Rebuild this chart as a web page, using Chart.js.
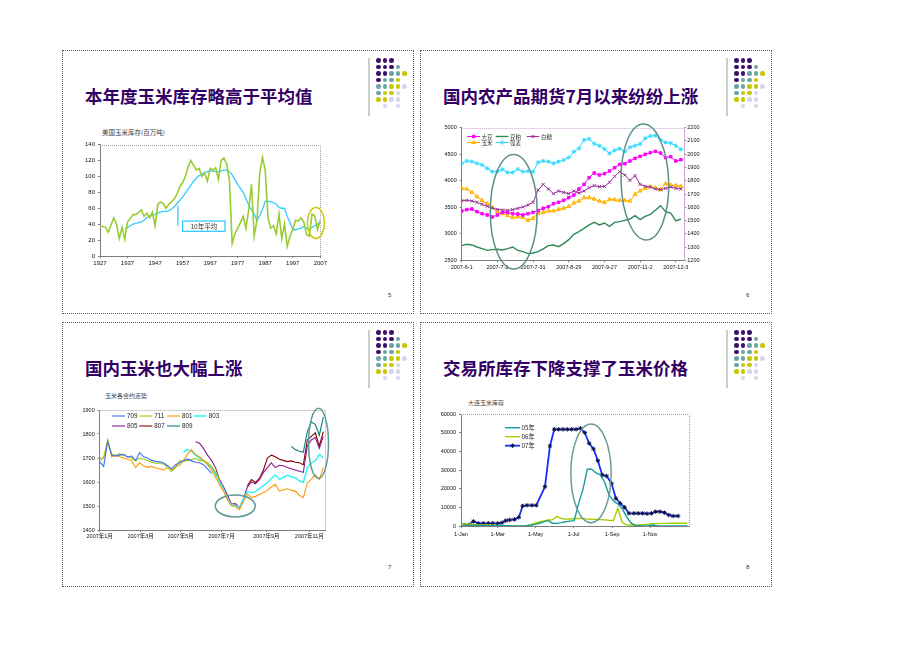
<!DOCTYPE html>
<html>
<head>
<meta charset="utf-8">
<script src="https://cdn.jsdelivr.net/npm/chart.js@4.4.1/dist/chart.umd.min.js"></script>
<style>
  html, body { margin:0; padding:0; background:#fff; }
  body { width:920px; height:651px; position:relative; overflow:hidden; font-family:"Noto Sans CJK SC","Liberation Sans",sans-serif; }
  .slide { position:absolute; width:352px; box-sizing:border-box; border:1px dotted #5a5a5a; background:#fff; }
  .title { position:absolute; left:22px; top:33px; font-size:17.5px; font-weight:700; color:#330066; line-height:24px; white-space:nowrap; }
  .vline { position:absolute; left:305px; top:7px; width:2px; height:58px; background:#c9d0c9; }
  .dot { position:absolute; width:4.6px; height:4.6px; border-radius:50%; }
  .pnum { position:absolute; left:325px; top:241px; font-size:6px; color:#333; font-family:"Liberation Sans",sans-serif; }
  .ctitle { position:absolute; font-size:6px; color:#444; white-space:nowrap; line-height:8px; }
  canvas { position:absolute; }
</style>
</head>
<body>
<div class="slide" id="s1" style="left:62px;top:50px;height:264px"><div class="title">本年度玉米库存略高于平均值</div><div class="pnum">5</div></div>
<div class="slide" id="s2" style="left:420px;top:50px;height:264px"><div class="title">国内农产品期货7月以来纷纷上涨</div><div class="pnum">6</div></div>
<div class="slide" id="s3" style="left:62px;top:322px;height:265px"><div class="title">国内玉米也大幅上涨</div><div class="pnum">7</div></div>
<div class="slide" id="s4" style="left:420px;top:322px;height:265px"><div class="title">交易所库存下降支撑了玉米价格</div><div class="pnum">8</div></div>

<div class="ctitle" style="left:102px;top:128px;font-size:6.5px">美国玉米库存(百万吨)</div>
<div class="ctitle" style="left:105px;top:392px">玉米各合约走势</div>
<div class="ctitle" style="left:468px;top:399px">大连玉米库存</div>

<canvas id="c1" width="262" height="137" style="left:70px;top:138px"></canvas>
<canvas id="c2" width="272" height="157" style="left:428px;top:118px"></canvas>
<canvas id="c3" width="270" height="147" style="left:66px;top:398px"></canvas>
<canvas id="c4" width="272" height="145" style="left:428px;top:400px"></canvas>

<script>
// ================= DATA =================
// Chart 1: US corn stocks (million tons), 1927-2007, and 10-year average from 1936
const stockFirstYear = 1927;
const usCornStocks = [37,37,36,30,39,48,40,22,36,21,
  43,47,52,52,55,58,50,54,48,55,
  38,65,68,66,60,65,68,72,78,87,
  92,100,112,120,114,108,110,100,104,94,
  110,108,111,96,120,123,116,95,16,28,
  35,42,50,35,58,90,25,45,104,124,
  108,48,35,38,28,53,22,40,12,25,
  33,45,44,48,43,27,25,53,50,33,
  45];
const avgFirstYear = 1936;
const tenYearAvg = [34,36,38,40,41,42,43,45,48,50,
  51,52,54,55,56,56,57,59,62,66,
  70,74,79,84,89,94,98,101,103,105,
  106,107,107,106,106,107,108,108,106,102,
  96,90,85,80,72,64,58,53,44,51,
  58,69,69,68,67,65,61,60,60,50,
  42,33,33,34,35,37,35,33,36,38,
  40,42];
const chart1YearTicks = [1927,1937,1947,1957,1967,1977,1987,1997,2007];

// Chart 2: domestic futures, sampled every 3 trading days from 2007-6-1
const futuresStep = 3;
const soybean = [3430,3455,3467,3417,3379,3354,3317,3354,3404,3398,3379,3373,3354,3379,3404,3436,3480,3511,3568,3593,3631,3681,3731,3844,3932,4058,4146,4108,4133,4183,4246,4309,4321,4372,4422,4460,4497,4529,4554,4522,4435,4453,4372,4397];
const soymeal = [2776,2801,2789,2751,2720,2688,2701,2707,2695,2720,2751,2688,2663,2626,2638,2663,2714,2776,2789,2758,2814,2889,2990,3040,3103,3166,3216,3166,3203,3141,3216,3229,3254,3279,3342,3266,3329,3367,3442,3530,3417,3392,3241,3279];
const sugar = [3624,3631,3618,3593,3555,3518,3486,3461,3448,3442,3455,3480,3505,3543,3593,3825,3932,3844,3756,3806,3781,3756,3806,3769,3806,3869,3907,3888,3894,3970,4083,4171,4108,4007,4095,3932,3894,3882,3844,3832,3857,3882,3857,3844];
const cornFut = [1743,1738,1713,1680,1652,1627,1597,1567,1552,1537,1522,1527,1522,1502,1517,1552,1562,1572,1572,1584,1592,1605,1632,1647,1672,1672,1662,1647,1637,1660,1657,1652,1652,1647,1697,1723,1743,1755,1748,1733,1778,1768,1763,1758];
const wheat = [1929,1949,1944,1931,1919,1893,1868,1871,1886,1863,1863,1888,1868,1873,1868,1939,1949,1944,1931,1944,1956,1976,2019,2044,2107,2115,2079,2064,2039,2007,2029,2042,2019,2052,2064,2077,2120,2137,2140,2107,2089,2084,2064,2037];
const chart2TickDays = [0,21,42,63,84,105,126];
const chart2TickLabels = ['2007-6-1','2007-7-2','2007-7-31','2007-8-29','2007-9-27','2007-11-2','2007-12-3'];

// Chart 3: Dalian corn contracts, sampled every 4 trading days
const contractStep = 4;
const contractNames = ['709','711','801','803','805','807','809'];
const contractStart = [0,0,0,21,24,37,48];
const c709 = [1685,1665,1770,1712,1708,1712,1715,1704,1708,1690,1722,1705,1700,1690,1686,1684,1680,1668,1655,1672,1680,1690,1695,1688,1682,1680,1672,1655,1636];
const c711 = [1700,1700,1775,1715,1710,1718,1710,1705,1700,1688,1700,1695,1690,1682,1678,1678,1675,1662,1645,1660,1688,1685,1690,1695,1698,1690,1688,1680,1665,1640,1610];
const c801 = [1690,1700,1770,1705,1712,1705,1700,1695,1690,1660,1680,1668,1660,1665,1658,1655,1650,1660,1648,1665,1670,1690,1715,1735,1715,1705,1690,1672,1650,1620,1590,1562,1525,1500,1498,1485,1520,1550,1535,1540,1548,1556,1565,1580,1590,1562,1568,1572,1565,1562,1545,1535,1595,1612,1630,1610,1660];
const c803 = [1725,1735,1728,1712,1700,1690,1675,1660,1632,1600,1570,1530,1505,1500,1495,1530,1560,1555,1560,1572,1585,1598,1615,1630,1610,1620,1628,1622,1618,1605,1598,1660,1680,1688,1715,1700];
const c805 = [1768,1762,1740,1712,1690,1660,1610,1580,1545,1508,1510,1492,1530,1580,1600,1592,1610,1640,1660,1680,1660,1670,1668,1660,1655,1650,1645,1640,1750,1775,1785,1740,1790];
const c807 = [1585,1610,1598,1615,1650,1700,1712,1705,1695,1690,1685,1688,1682,1680,1672,1775,1790,1805,1750,1810];
const c809 = [1748,1735,1728,1725,1810,1850,1840,1795,1870];
const chart3TickPos = [0,41,81,122,167,210];
const chart3TickLabels = ['2007年1月','2007年3月','2007年5月','2007年7月','2007年9月','2007年11月'];

// Chart 4: Dalian corn warehouse stocks (day of year)
const days07 = [5,13,20,28,36,44,51,59,66,72,78,86,93,99,106,114,121,135,143,150,157,164,171,178,185,192,199,206,213,220,227,234,242,249,256,263,270,278,285,292,299,306,313,320,327,334,341,349];
const stock07 = [540,720,2500,1430,1430,1430,1430,1430,1790,2870,3220,3580,4660,10750,11100,11100,11100,21130,42980,51940,51940,51940,51940,51940,51940,52480,50150,44420,41370,35100,27400,26870,22930,14870,12180,10030,6810,6810,6810,6810,6630,6810,7700,7700,7160,5910,5370,5370];
const weekStep = 7;
const stock05 = [300,200,200,300,400,300,200,100,300,400,200,100,0,0,0,100,400,900,1500,2200,3000,1500,1400,1800,2300,2600,2900,12000,19500,30500,30500,28500,27500,23500,16700,13500,11800,9500,5000,1800,200,100,0,100,500,100,0,0,0,0,0,0,0];
const stock06 = [800,1000,1100,900,700,500,500,400,300,200,100,0,0,0,0,200,700,1500,2200,2700,3200,3300,5200,4000,3700,3800,3900,4000,4100,3700,3600,3500,3400,3300,3100,3000,9500,2000,600,500,500,600,800,1000,1200,1300,1400,1400,1500,1500,1500,1500,1500];
const chart4TickDays = [0,59,120,181,243,304];
const chart4TickLabels = ['1-Jan','1-Mar','1-May','1-Jul','1-Sep','1-Nov'];

// ================= DECOR =================
const dotRows = ['PPP','PPPT','PPTTY','PTTY','TTYYL','TYYL','YYLL',' L L'];
const dotColors = {P:'#3b0f6b', T:'#6aa5a5', Y:'#c8c800', L:'#d4d4ef'};
['s1','s2','s3','s4'].forEach(id => {
  const s = document.getElementById(id);
  const vl = document.createElement('div'); vl.className = 'vline'; s.appendChild(vl);
  dotRows.forEach((row, r) => {
    [...row].forEach((c, k) => {
      if (c === ' ') return;
      const d = document.createElement('div'); d.className = 'dot';
      d.style.left = (313.4 + k * 6.4) + 'px';
      d.style.top = (7.2 + r * 6.5) + 'px';
      d.style.background = dotColors[c];
      s.appendChild(d);
    });
  });
});

// ================= PLUGINS =================
const framePlugin = {
  id: 'frame',
  beforeDatasetsDraw(chart, args, o) {
    const a = chart.chartArea, ctx = chart.ctx;
    ctx.save(); ctx.setLineDash([1, 1]); ctx.strokeStyle = o.color || '#999'; ctx.lineWidth = 1;
    ctx.beginPath();
    ctx.moveTo(a.left, Math.round(a.top) + 0.5);
    ctx.lineTo(Math.round(a.right) + 0.5, Math.round(a.top) + 0.5);
    ctx.lineTo(Math.round(a.right) + 0.5, a.bottom);
    ctx.stroke(); ctx.restore();
  }
};
const ellipsePlugin = {
  id: 'ellipses',
  afterDatasetsDraw(chart, args, o) {
    const ctx = chart.ctx;
    (o.items || []).forEach(e => {
      const xs = chart.scales[e.xAxis || 'x'], ys = chart.scales[e.yAxis || 'y'];
      const cx = xs.getPixelForValue(e.cx), cy = ys.getPixelForValue(e.cy);
      const rx = Math.abs(xs.getPixelForValue(e.cx + e.rx) - cx);
      const ry = Math.abs(ys.getPixelForValue(e.cy + e.ry) - cy);
      ctx.save(); ctx.beginPath(); ctx.ellipse(cx, cy, rx, ry, e.rot || 0, 0, Math.PI * 2);
      ctx.strokeStyle = e.color; ctx.lineWidth = e.width || 1.5; ctx.stroke(); ctx.restore();
    });
  }
};
const calloutPlugin = {
  id: 'callout',
  afterDatasetsDraw(chart, args, o) {
    if (!o || !o.text) return;
    const xs = chart.scales.x, ys = chart.scales.y, ctx = chart.ctx;
    ctx.save();
    ctx.strokeStyle = o.color; ctx.lineWidth = o.lineWidth;
    const lx = xs.getPixelForValue(o.lineX);
    ctx.beginPath(); ctx.moveTo(lx, ys.getPixelForValue(o.lineFrom)); ctx.lineTo(lx, ys.getPixelForValue(o.lineTo)); ctx.stroke();
    const x1 = xs.getPixelForValue(o.box[0]), x2 = xs.getPixelForValue(o.box[1]);
    const y1 = ys.getPixelForValue(o.box[2]), y2 = ys.getPixelForValue(o.box[3]);
    ctx.fillStyle = '#fff'; ctx.fillRect(x1, y1, x2 - x1, y2 - y1);
    ctx.strokeRect(x1, y1, x2 - x1, y2 - y1);
    ctx.fillStyle = o.textColor; ctx.font = o.font; ctx.textAlign = 'center'; ctx.textBaseline = 'middle';
    ctx.fillText(o.text, (x1 + x2) / 2, (y1 + y2) / 2 + 0.5);
    ctx.restore();
  }
};
const miniLegend = {
  id: 'miniLegend',
  afterDraw(chart, args, o) {
    if (!o || !o.items) return;
    const ctx = chart.ctx, a = chart.chartArea;
    ctx.save();
    o.items.forEach(it => {
      const ds = chart.data.datasets[it.ds];
      const x = a.left + it.dx, y = a.top + it.dy;
      ctx.setLineDash([]);
      ctx.strokeStyle = ds.borderColor; ctx.lineWidth = ds.borderWidth;
      ctx.beginPath(); ctx.moveTo(x, y); ctx.lineTo(x + o.lineLen, y); ctx.stroke();
      if (ds.pointRadius > 0) {
        ctx.fillStyle = ds.pointBackgroundColor || ds.borderColor;
        ctx.strokeStyle = ds.pointBorderColor || ds.borderColor;
        ctx.lineWidth = ds.pointBorderWidth || 1;
        if (Chart.helpers && Chart.helpers.drawPoint) {
          Chart.helpers.drawPoint(ctx, {pointStyle: ds.pointStyle, radius: ds.pointRadius, rotation: 0, borderWidth: ds.pointBorderWidth || 1}, x + o.lineLen / 2, y);
        } else {
          ctx.fillRect(x + o.lineLen / 2 - 1.5, y - 1.5, 3, 3);
        }
      }
      ctx.fillStyle = o.color; ctx.font = o.font; ctx.textAlign = 'left'; ctx.textBaseline = 'middle';
      ctx.fillText(ds.label, x + o.lineLen + o.gap, y + 0.3);
    });
    ctx.restore();
  }
};

// ================= HELPERS =================
const AXIS = '#7f7f7f';
const tickFont = (s) => ({size: s, family: '"Liberation Sans","Noto Sans CJK SC",sans-serif'});
function xAxisFixed(opts) {
  return {
    type: 'linear', min: opts.min, max: opts.max,
    afterBuildTicks: s => { s.ticks = opts.ticks.map(v => ({value: v})); },
    afterFit: s => { s.height = opts.height; },
    ticks: {font: tickFont(opts.font), color: '#111', padding: opts.pad, maxRotation: 0, minRotation: 0, autoSkip: false,
      callback: (v, i) => opts.labels ? opts.labels[i] : String(v)},
    grid: {drawOnChartArea: false, drawTicks: true, tickLength: 2, color: AXIS},
    border: {color: AXIS, width: 1}
  };
}
function yAxisFixed(opts) {
  return {
    type: 'linear', position: opts.position || 'left', min: opts.min, max: opts.max,
    afterFit: s => { s.width = opts.width; },
    ticks: {stepSize: opts.step, font: tickFont(opts.font), color: '#111', padding: opts.pad, callback: v => String(v)},
    grid: {drawOnChartArea: false, drawTicks: true, tickLength: 2, color: AXIS},
    border: {color: opts.borderColor || AXIS, width: 1, dash: opts.dash || []}
  };
}
const baseOpts = {responsive: false, animation: false, devicePixelRatio: 1, events: []};

// ================= CHART 1 =================
const stockYears = usCornStocks.map((v, i) => stockFirstYear + i);
const avgYears = tenYearAvg.map((v, i) => avgFirstYear + i);
new Chart(document.getElementById('c1'), {
  type: 'line',
  data: {datasets: [
    {label: '美国玉米库存', data: usCornStocks.map((v, i) => ({x: stockYears[i], y: v})), borderColor: '#99cc33', borderWidth: 1.6, pointRadius: 0, tension: 0},
    {label: '10年平均', data: tenYearAvg.map((v, i) => ({x: avgYears[i], y: v})), borderColor: '#33ccff', borderWidth: 1.3, pointRadius: 0, tension: 0}
  ]},
  options: Object.assign({}, baseOpts, {
    layout: {padding: {top: 6.3, right: 11.7, left: 0, bottom: 0}},
    plugins: {
      legend: {display: false}, tooltip: {enabled: false},
      frame: {color: '#a0a0a0'},
      ellipses: {items: [{cx: 2005.4, cy: 41.5, rx: 3.1, ry: 19.5, color: '#c8c800', width: 1.5}]},
      callout: {text: '10年平均', lineX: 1955.3, lineFrom: 63, lineTo: 38, box: [1957, 1972.4, 44, 31], color: '#33ccff', lineWidth: 1.3, textColor: '#333', font: '6.5px "Noto Sans CJK SC"'}
    },
    scales: {
      x: xAxisFixed({min: 1927, max: 2007, ticks: chart1YearTicks, height: 19, font: 6, pad: 2}),
      y: yAxisFixed({min: 0, max: 140, step: 20, width: 30, font: 6, pad: 3})
    }
  }),
  plugins: [framePlugin, ellipsePlugin, calloutPlugin]
});

// ================= CHART 2 =================
const futDays = soybean.map((v, i) => i * futuresStep);
const pts = (arr, xs) => arr.map((v, i) => ({x: xs[i], y: v}));
new Chart(document.getElementById('c2'), {
  type: 'line',
  data: {datasets: [
    {label: '大豆', data: pts(soybean, futDays), yAxisID: 'y', borderColor: '#ff00ff', borderWidth: 1, pointStyle: 'rect', pointRadius: 1.8, pointBackgroundColor: '#ff00ff', pointBorderColor: '#ff00ff', pointBorderWidth: 1},
    {label: '豆粕', data: pts(soymeal, futDays), yAxisID: 'y', borderColor: '#2e8b57', borderWidth: 1.4, pointRadius: 0},
    {label: '白糖', data: pts(sugar, futDays), yAxisID: 'y', borderColor: '#993399', borderWidth: 1, pointStyle: 'crossRot', pointRadius: 2.2, pointBorderColor: '#993399', pointBackgroundColor: '#993399', pointBorderWidth: 1},
    {label: '玉米', data: pts(cornFut, futDays), yAxisID: 'y1', borderColor: '#ffa500', borderWidth: 1, pointStyle: 'triangle', pointRadius: 2.2, pointBackgroundColor: '#ffd21a', pointBorderColor: '#ffb000', pointBorderWidth: 1},
    {label: '强麦', data: pts(wheat, futDays), yAxisID: 'y1', borderColor: '#33ccff', borderWidth: 1, pointStyle: 'star', pointRadius: 2.2, pointBorderColor: '#33ddff', pointBackgroundColor: '#33ddff', pointBorderWidth: 1}
  ]},
  options: Object.assign({}, baseOpts, {
    layout: {padding: {top: 9.7, right: 0, left: 0, bottom: 0}},
    plugins: {
      legend: {display: false}, tooltip: {enabled: false},
      frame: {color: '#c9a9cf'},
      ellipses: {items: [
        {cx: 30.6, cy: 3417, rx: 13.8, ry: 1080, color: '#5f8f8a', width: 1.5},
        {cx: 107.8, cy: 3976, rx: 14, ry: 1093, color: '#5f8f8a', width: 1.5, rot: -0.03}
      ]},
      miniLegend: {lineLen: 12.7, gap: 1.5, color: '#333', font: '5.5px "Noto Sans CJK SC"', items: [
        {ds: 0, dx: 5.6, dy: 8.8}, {ds: 1, dx: 34, dy: 8.8}, {ds: 2, dx: 65, dy: 8.8},
        {ds: 3, dx: 5.6, dy: 14.8}, {ds: 4, dx: 34, dy: 14.8}
      ]}
    },
    scales: {
      x: xAxisFixed({min: 0, max: 131, ticks: chart2TickDays, labels: chart2TickLabels, height: 14.7, font: 5.5, pad: 2}),
      y: yAxisFixed({min: 2500, max: 5000, step: 500, width: 33.7, font: 5.5, pad: 3}),
      y1: yAxisFixed({position: 'right', min: 1200, max: 2200, step: 100, width: 15.7, font: 5.5, pad: 1, borderColor: '#c9a9cf'})
    }
  }),
  plugins: [framePlugin, ellipsePlugin, miniLegend]
});

// ================= CHART 3 =================
const contractSeries = [c709, c711, c801, c803, c805, c807, c809];
const contractColors = ['#3f6fff', '#99cc00', '#ff9900', '#33f5f5', '#8b1a8b', '#8b0000', '#008080'];
new Chart(document.getElementById('c3'), {
  type: 'line',
  data: {datasets: contractSeries.map((arr, k) => ({
    label: contractNames[k],
    data: arr.map((v, i) => ({x: (contractStart[k] + i) * contractStep, y: v})),
    borderColor: contractColors[k], borderWidth: k === 3 ? 1.5 : 1.1, pointRadius: 0, tension: 0
  }))},
  options: Object.assign({}, baseOpts, {
    layout: {padding: {top: 12, right: 10.7, left: 0, bottom: 0}},
    plugins: {
      legend: {display: false}, tooltip: {enabled: false},
      frame: {color: '#a0a0a0'},
      ellipses: {items: [
        {cx: 135.8, cy: 1500, rx: 20, ry: 45.8, color: '#5f9a96', width: 1.5},
        {cx: 219.2, cy: 1761, rx: 10, ry: 146, color: '#5f9a96', width: 1.5}
      ]},
      miniLegend: {lineLen: 13, gap: 2, color: '#222', font: '6.3px "Liberation Sans"', items: [
        {ds: 0, dx: 12.3, dy: 6}, {ds: 1, dx: 39.6, dy: 6}, {ds: 2, dx: 67.3, dy: 6}, {ds: 3, dx: 94, dy: 6},
        {ds: 4, dx: 12.3, dy: 16}, {ds: 5, dx: 39.6, dy: 16}, {ds: 6, dx: 67.3, dy: 16}
      ]}
    },
    scales: {
      x: xAxisFixed({min: 0, max: 226, ticks: chart3TickPos, labels: chart3TickLabels, height: 15, font: 5.5, pad: 1}),
      y: yAxisFixed({min: 1400, max: 1900, step: 100, width: 33.7, font: 5.5, pad: 3})
    }
  }),
  plugins: [framePlugin, ellipsePlugin, miniLegend]
});

// ================= CHART 4 =================
const weekDays = stock05.map((v, i) => i * weekStep);
new Chart(document.getElementById('c4'), {
  type: 'line',
  data: {datasets: [
    {label: '05年', data: pts(stock05, weekDays), borderColor: '#169b96', borderWidth: 1.4, pointRadius: 0},
    {label: '06年', data: pts(stock06, weekDays), borderColor: '#a6d000', borderWidth: 1.4, pointRadius: 0},
    {label: '07年', data: pts(stock07, days07), borderColor: '#1530ff', borderWidth: 1.8, pointStyle: 'star', pointRadius: 2.2, pointBorderColor: '#101040', pointBackgroundColor: '#101040', pointBorderWidth: 1}
  ]},
  options: Object.assign({}, baseOpts, {
    layout: {padding: {top: 14.3, right: 10.7, left: 0, bottom: 0}},
    plugins: {
      legend: {display: false}, tooltip: {enabled: false},
      frame: {color: '#a0a0a0'},
      ellipses: {items: [{cx: 209, cy: 28300, rx: 32.4, ry: 26500, color: '#6f9b98', width: 1.5}]},
      miniLegend: {lineLen: 15, gap: 1.5, color: '#222', font: '6.3px "Noto Sans CJK SC"', items: [
        {ds: 0, dx: 44, dy: 13.4}, {ds: 1, dx: 44, dy: 22.4}, {ds: 2, dx: 44, dy: 31.4}
      ]}
    },
    scales: {
      x: xAxisFixed({min: 0, max: 367, ticks: chart4TickDays, labels: chart4TickLabels, height: 19, font: 5.5, pad: 3}),
      y: yAxisFixed({min: 0, max: 60000, step: 10000, width: 33, font: 5.5, pad: 3})
    }
  }),
  plugins: [framePlugin, ellipsePlugin, miniLegend]
});
</script>
</body>
</html>
